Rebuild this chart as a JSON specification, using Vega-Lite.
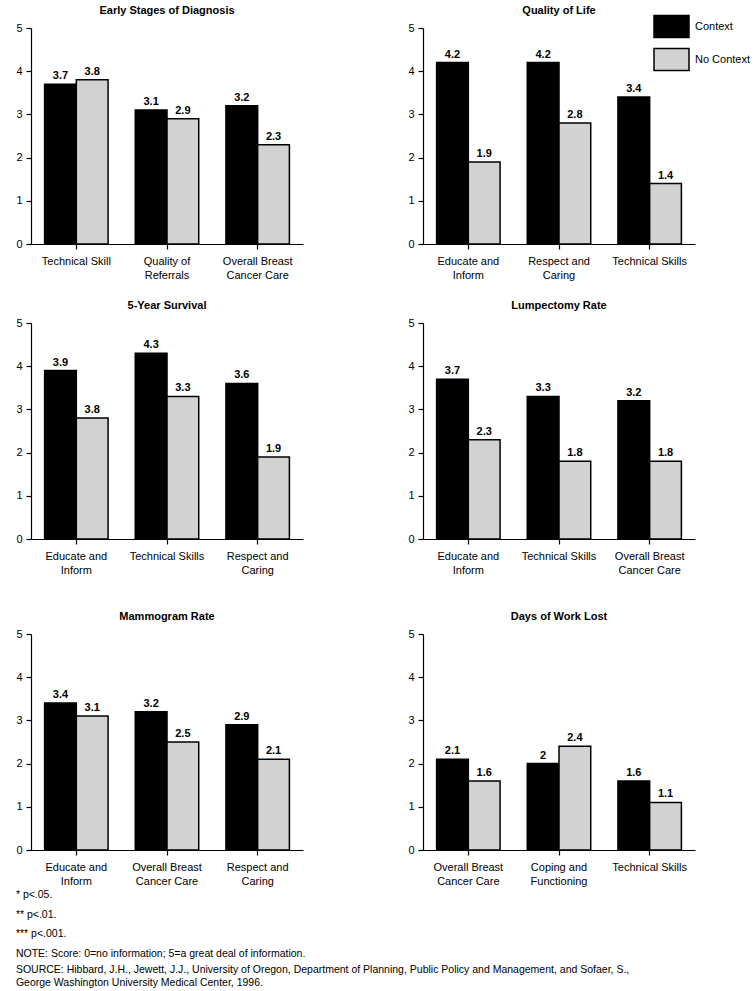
{
  "$schema": "https://vega.github.io/schema/vega-lite/v6.json",
  "padding": {"left": 15, "top": 5, "right": 5, "bottom": 5},
  "background": "white",
  "title": {
    "text": ["* p<.05.", "** p<.01.", "*** p<.001.", "NOTE: Score: 0=no information; 5=a great deal of information."],
    "subtitle": ["SOURCE: Hibbard, J.H., Jewett, J.J., University of Oregon, Department of Planning, Public Policy and Management, and Sofaer, S.,", "George Washington University Medical Center, 1996."],
    "orient": "bottom",
    "anchor": "start",
    "frame": "bounds",
    "fontSize": 10.5,
    "fontWeight": "normal",
    "lineHeight": 19.5,
    "subtitleFontSize": 10.5,
    "subtitleLineHeight": 13,
    "subtitlePadding": 6,
    "subtitleColor": "black",
    "color": "black",
    "offset": 4
  },
  "datasets": {
    "scores": [
      {"panel": "Early Stages of Diagnosis", "category": "Technical Skill", "condition": "Context", "value": 3.7, "label": "3.7"},
      {"panel": "Early Stages of Diagnosis", "category": "Technical Skill", "condition": "No Context", "value": 3.8, "label": "3.8"},
      {"panel": "Early Stages of Diagnosis", "category": "Quality of|Referrals", "condition": "Context", "value": 3.1, "label": "3.1"},
      {"panel": "Early Stages of Diagnosis", "category": "Quality of|Referrals", "condition": "No Context", "value": 2.9, "label": "2.9"},
      {"panel": "Early Stages of Diagnosis", "category": "Overall Breast|Cancer Care", "condition": "Context", "value": 3.2, "label": "3.2"},
      {"panel": "Early Stages of Diagnosis", "category": "Overall Breast|Cancer Care", "condition": "No Context", "value": 2.3, "label": "2.3"},
      {"panel": "Quality of Life", "category": "Educate and|Inform", "condition": "Context", "value": 4.2, "label": "4.2"},
      {"panel": "Quality of Life", "category": "Educate and|Inform", "condition": "No Context", "value": 1.9, "label": "1.9"},
      {"panel": "Quality of Life", "category": "Respect and|Caring", "condition": "Context", "value": 4.2, "label": "4.2"},
      {"panel": "Quality of Life", "category": "Respect and|Caring", "condition": "No Context", "value": 2.8, "label": "2.8"},
      {"panel": "Quality of Life", "category": "Technical Skills", "condition": "Context", "value": 3.4, "label": "3.4"},
      {"panel": "Quality of Life", "category": "Technical Skills", "condition": "No Context", "value": 1.4, "label": "1.4"},
      {"panel": "5-Year Survival", "category": "Educate and|Inform", "condition": "Context", "value": 3.9, "label": "3.9"},
      {"panel": "5-Year Survival", "category": "Educate and|Inform", "condition": "No Context", "value": 2.8, "label": "3.8"},
      {"panel": "5-Year Survival", "category": "Technical Skills", "condition": "Context", "value": 4.3, "label": "4.3"},
      {"panel": "5-Year Survival", "category": "Technical Skills", "condition": "No Context", "value": 3.3, "label": "3.3"},
      {"panel": "5-Year Survival", "category": "Respect and|Caring", "condition": "Context", "value": 3.6, "label": "3.6"},
      {"panel": "5-Year Survival", "category": "Respect and|Caring", "condition": "No Context", "value": 1.9, "label": "1.9"},
      {"panel": "Lumpectomy Rate", "category": "Educate and|Inform", "condition": "Context", "value": 3.7, "label": "3.7"},
      {"panel": "Lumpectomy Rate", "category": "Educate and|Inform", "condition": "No Context", "value": 2.3, "label": "2.3"},
      {"panel": "Lumpectomy Rate", "category": "Technical Skills", "condition": "Context", "value": 3.3, "label": "3.3"},
      {"panel": "Lumpectomy Rate", "category": "Technical Skills", "condition": "No Context", "value": 1.8, "label": "1.8"},
      {"panel": "Lumpectomy Rate", "category": "Overall Breast|Cancer Care", "condition": "Context", "value": 3.2, "label": "3.2"},
      {"panel": "Lumpectomy Rate", "category": "Overall Breast|Cancer Care", "condition": "No Context", "value": 1.8, "label": "1.8"},
      {"panel": "Mammogram Rate", "category": "Educate and|Inform", "condition": "Context", "value": 3.4, "label": "3.4"},
      {"panel": "Mammogram Rate", "category": "Educate and|Inform", "condition": "No Context", "value": 3.1, "label": "3.1"},
      {"panel": "Mammogram Rate", "category": "Overall Breast|Cancer Care", "condition": "Context", "value": 3.2, "label": "3.2"},
      {"panel": "Mammogram Rate", "category": "Overall Breast|Cancer Care", "condition": "No Context", "value": 2.5, "label": "2.5"},
      {"panel": "Mammogram Rate", "category": "Respect and|Caring", "condition": "Context", "value": 2.9, "label": "2.9"},
      {"panel": "Mammogram Rate", "category": "Respect and|Caring", "condition": "No Context", "value": 2.1, "label": "2.1"},
      {"panel": "Days of Work Lost", "category": "Overall Breast|Cancer Care", "condition": "Context", "value": 2.1, "label": "2.1"},
      {"panel": "Days of Work Lost", "category": "Overall Breast|Cancer Care", "condition": "No Context", "value": 1.6, "label": "1.6"},
      {"panel": "Days of Work Lost", "category": "Coping and|Functioning", "condition": "Context", "value": 2.0, "label": "2"},
      {"panel": "Days of Work Lost", "category": "Coping and|Functioning", "condition": "No Context", "value": 2.4, "label": "2.4"},
      {"panel": "Days of Work Lost", "category": "Technical Skills", "condition": "Context", "value": 1.6, "label": "1.6"},
      {"panel": "Days of Work Lost", "category": "Technical Skills", "condition": "No Context", "value": 1.1, "label": "1.1"}
    ]
  },
  "data": {"name": "scores"},
  "spacing": 36,
  "resolve": {"scale": {"x": "independent", "xOffset": "independent"}, "axis": {"x": "independent", "y": "independent"}},
  "vconcat": [
    {
      "spacing": 20,
      "resolve": {"scale": {"x": "independent", "xOffset": "independent"}, "axis": {"x": "independent", "y": "independent"}},
      "vconcat": [
        {
          "spacing": 104,
          "resolve": {"scale": {"x": "independent", "xOffset": "independent"}, "axis": {"x": "independent", "y": "independent"}},
          "hconcat": [
            {
              "title": "Early Stages of Diagnosis",
              "transform": [{"filter": "datum.panel == 'Early Stages of Diagnosis'"}],
              "width": 272, "height": 216,
              "encoding": {
                "x": {"field": "category", "type": "nominal", "sort": null, "scale": {"paddingInner": 0.3, "paddingOuter": 0.15}, "axis": {"title": null, "labelAngle": 0, "labelPadding": 6, "tickSize": 5, "labelExpr": "split(datum.label, '|')", "labelLineHeight": 14}},
                "xOffset": {"field": "condition", "type": "nominal", "sort": ["Context", "No Context"]},
                "y": {"field": "value", "type": "quantitative", "scale": {"domain": [0, 5]}, "axis": {"title": null, "values": [0, 1, 2, 3, 4, 5], "tickSize": 5, "labelPadding": 4}}
              },
              "layer": [
                {"mark": {"type": "bar", "stroke": "black", "strokeWidth": 1.5}, "encoding": {"color": {"field": "condition", "type": "nominal"}}},
                {"mark": {"type": "text", "dy": -8, "fontWeight": "bold", "fontSize": 11, "color": "black"}, "encoding": {"text": {"field": "label"}}}
              ]
            },
            {
              "title": "Quality of Life",
              "transform": [{"filter": "datum.panel == 'Quality of Life'"}],
              "width": 272, "height": 216,
              "encoding": {
                "x": {"field": "category", "type": "nominal", "sort": null, "scale": {"paddingInner": 0.3, "paddingOuter": 0.15}, "axis": {"title": null, "labelAngle": 0, "labelPadding": 6, "tickSize": 5, "labelExpr": "split(datum.label, '|')", "labelLineHeight": 14}},
                "xOffset": {"field": "condition", "type": "nominal", "sort": ["Context", "No Context"]},
                "y": {"field": "value", "type": "quantitative", "scale": {"domain": [0, 5]}, "axis": {"title": null, "values": [0, 1, 2, 3, 4, 5], "tickSize": 5, "labelPadding": 4}}
              },
              "layer": [
                {"mark": {"type": "bar", "stroke": "black", "strokeWidth": 1.5}, "encoding": {"color": {"field": "condition", "type": "nominal"}}},
                {"mark": {"type": "text", "dy": -8, "fontWeight": "bold", "fontSize": 11, "color": "black"}, "encoding": {"text": {"field": "label"}}}
              ]
            }
          ]
        },
        {
          "spacing": 104,
          "resolve": {"scale": {"x": "independent", "xOffset": "independent"}, "axis": {"x": "independent", "y": "independent"}},
          "hconcat": [
            {
              "title": "5-Year Survival",
              "transform": [{"filter": "datum.panel == '5-Year Survival'"}],
              "width": 272, "height": 216,
              "encoding": {
                "x": {"field": "category", "type": "nominal", "sort": null, "scale": {"paddingInner": 0.3, "paddingOuter": 0.15}, "axis": {"title": null, "labelAngle": 0, "labelPadding": 6, "tickSize": 5, "labelExpr": "split(datum.label, '|')", "labelLineHeight": 14}},
                "xOffset": {"field": "condition", "type": "nominal", "sort": ["Context", "No Context"]},
                "y": {"field": "value", "type": "quantitative", "scale": {"domain": [0, 5]}, "axis": {"title": null, "values": [0, 1, 2, 3, 4, 5], "tickSize": 5, "labelPadding": 4}}
              },
              "layer": [
                {"mark": {"type": "bar", "stroke": "black", "strokeWidth": 1.5}, "encoding": {"color": {"field": "condition", "type": "nominal"}}},
                {"mark": {"type": "text", "dy": -8, "fontWeight": "bold", "fontSize": 11, "color": "black"}, "encoding": {"text": {"field": "label"}}}
              ]
            },
            {
              "title": "Lumpectomy Rate",
              "transform": [{"filter": "datum.panel == 'Lumpectomy Rate'"}],
              "width": 272, "height": 216,
              "encoding": {
                "x": {"field": "category", "type": "nominal", "sort": null, "scale": {"paddingInner": 0.3, "paddingOuter": 0.15}, "axis": {"title": null, "labelAngle": 0, "labelPadding": 6, "tickSize": 5, "labelExpr": "split(datum.label, '|')", "labelLineHeight": 14}},
                "xOffset": {"field": "condition", "type": "nominal", "sort": ["Context", "No Context"]},
                "y": {"field": "value", "type": "quantitative", "scale": {"domain": [0, 5]}, "axis": {"title": null, "values": [0, 1, 2, 3, 4, 5], "tickSize": 5, "labelPadding": 4}}
              },
              "layer": [
                {"mark": {"type": "bar", "stroke": "black", "strokeWidth": 1.5}, "encoding": {"color": {"field": "condition", "type": "nominal"}}},
                {"mark": {"type": "text", "dy": -8, "fontWeight": "bold", "fontSize": 11, "color": "black"}, "encoding": {"text": {"field": "label"}}}
              ]
            }
          ]
        }
      ]
    },
    {
      "spacing": 104,
      "resolve": {"scale": {"x": "independent", "xOffset": "independent"}, "axis": {"x": "independent", "y": "independent"}},
      "hconcat": [
        {
          "title": "Mammogram Rate",
          "transform": [{"filter": "datum.panel == 'Mammogram Rate'"}],
          "width": 272, "height": 216,
          "encoding": {
            "x": {"field": "category", "type": "nominal", "sort": null, "scale": {"paddingInner": 0.3, "paddingOuter": 0.15}, "axis": {"title": null, "labelAngle": 0, "labelPadding": 6, "tickSize": 5, "labelExpr": "split(datum.label, '|')", "labelLineHeight": 14}},
            "xOffset": {"field": "condition", "type": "nominal", "sort": ["Context", "No Context"]},
            "y": {"field": "value", "type": "quantitative", "scale": {"domain": [0, 5]}, "axis": {"title": null, "values": [0, 1, 2, 3, 4, 5], "tickSize": 5, "labelPadding": 4}}
          },
          "layer": [
            {"mark": {"type": "bar", "stroke": "black", "strokeWidth": 1.5}, "encoding": {"color": {"field": "condition", "type": "nominal"}}},
            {"mark": {"type": "text", "dy": -8, "fontWeight": "bold", "fontSize": 11, "color": "black"}, "encoding": {"text": {"field": "label"}}}
          ]
        },
        {
          "title": "Days of Work Lost",
          "transform": [{"filter": "datum.panel == 'Days of Work Lost'"}],
          "width": 272, "height": 216,
          "encoding": {
            "x": {"field": "category", "type": "nominal", "sort": null, "scale": {"paddingInner": 0.3, "paddingOuter": 0.15}, "axis": {"title": null, "labelAngle": 0, "labelPadding": 6, "tickSize": 5, "labelExpr": "split(datum.label, '|')", "labelLineHeight": 14}},
            "xOffset": {"field": "condition", "type": "nominal", "sort": ["Context", "No Context"]},
            "y": {"field": "value", "type": "quantitative", "scale": {"domain": [0, 5]}, "axis": {"title": null, "values": [0, 1, 2, 3, 4, 5], "tickSize": 5, "labelPadding": 4}}
          },
          "layer": [
            {"mark": {"type": "bar", "stroke": "black", "strokeWidth": 1.5}, "encoding": {"color": {"field": "condition", "type": "nominal"}}},
            {"mark": {"type": "text", "dy": -8, "fontWeight": "bold", "fontSize": 11, "color": "black"}, "encoding": {"text": {"field": "label"}}}
          ]
        }
      ]
    }
  ],
  "config": {
    "font": "Liberation Sans",
    "view": {"stroke": null},
    "title": {"fontSize": 11, "fontWeight": "bold", "color": "black", "offset": 6},
    "axis": {"domainColor": "black", "tickColor": "black", "labelColor": "black", "labelFontSize": 11, "grid": false, "domainWidth": 1.2, "tickWidth": 1.2},
    "range": {"category": ["#000000", "#d2d2d2"]},
    "legend": {
      "title": null,
      "orient": "none",
      "legendX": 622,
      "legendY": -20,
      "symbolType": "M-1,-0.63H1V0.63H-1Z",
      "symbolSize": 1225,
      "symbolStrokeColor": "black",
      "symbolStrokeWidth": 1.5,
      "symbolOpacity": 1,
      "labelFontSize": 11,
      "labelColor": "black",
      "rowPadding": -16,
      "labelOffset": 5
    }
  }
}
